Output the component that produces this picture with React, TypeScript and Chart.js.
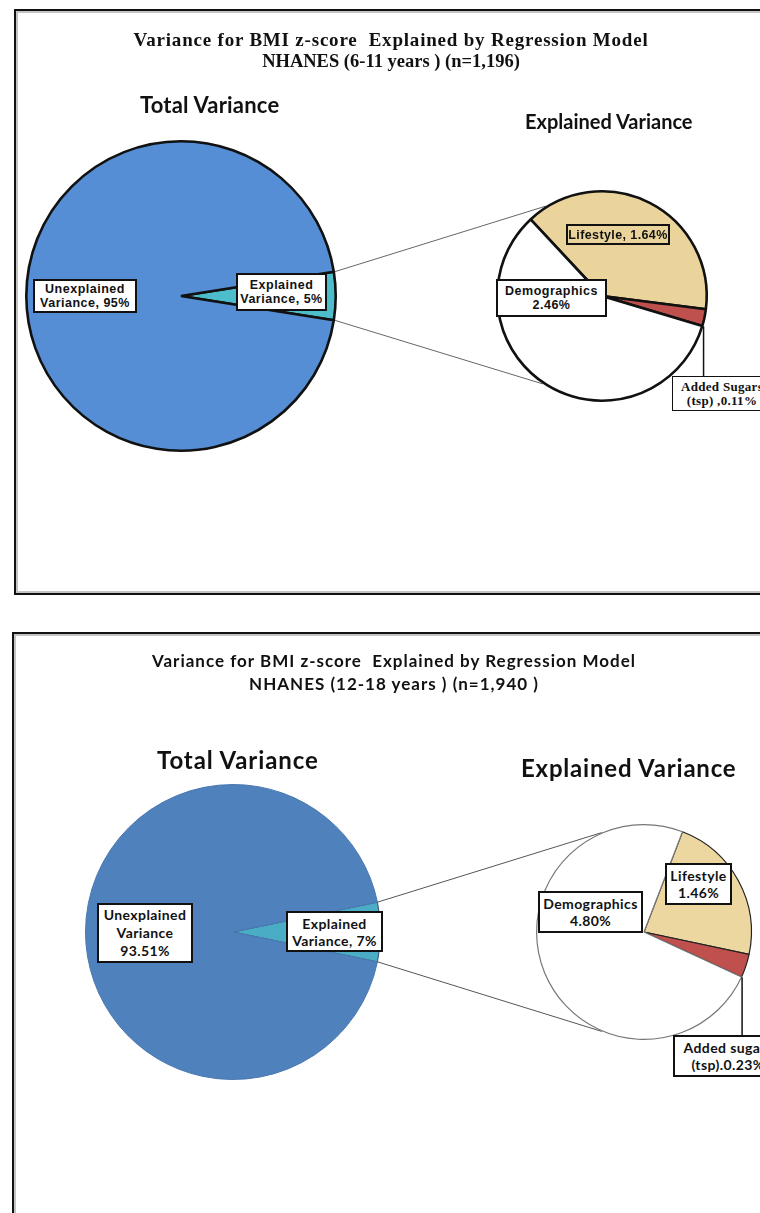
import React, { useEffect, useRef } from 'react';
import { Chart, registerables } from 'chart.js';
Chart.register(...registerables);

// ---------- DATA ----------
const topBigLabels = ['Explained Variance', 'Unexplained Variance'];
const topBigValues = [5, 95];
const topSmallLabels = ['Lifestyle', 'Added Sugars (tsp)', 'Demographics'];
const topSmallValues = [1.64, 0.11, 2.46];

const botBigLabels = ['Explained Variance', 'Unexplained Variance'];
const botBigValues = [6.49, 93.51];
const botSmallLabels = ['Lifestyle', 'Added sugars (tsp)', 'Demographics'];
const botSmallValues = [1.46, 0.23, 4.8];

const topTitle = ['Variance for BMI z-score  Explained by Regression Model', 'NHANES (6-11 years ) (n=1,196)'];
const botTitle = ['Variance for BMI z-score  Explained by Regression Model', 'NHANES (12-18 years ) (n=1,940 )'];
const totalTitle = 'Total Variance';
const explainedTitle = 'Explained Variance';

const topUnexplainedText = ['Unexplained', 'Variance, 95%'];
const topExplainedText = ['Explained', 'Variance, 5%'];
const topLifestyleText = ['Lifestyle, 1.64%'];
const topDemoText = ['Demographics', '2.46%'];
const topSugarText = ['Added Sugars', '(tsp) ,0.11%'];

const botUnexplainedText = ['Unexplained', 'Variance', '93.51%'];
const botExplainedText = ['Explained', 'Variance, 7%'];
const botLifestyleText = ['Lifestyle', '1.46%'];
const botDemoText = ['Demographics', '4.80%'];
const botSugarText = ['Added sugars', '(tsp).0.23%'];

// ---------- helpers ----------
type PieSpec = {
  labels: string[];
  values: number[];
  colors: string[];
  borderColors: string[];
  borderWidths: number[];
  cx: number;
  cy: number;
  r: number;
  startDeg: number;
};

function pieConfig(spec: PieSpec, W: number, H: number, plugins: any[]): any {
  return {
    type: 'pie',
    data: {
      labels: spec.labels,
      datasets: [
        {
          data: spec.values,
          backgroundColor: spec.colors,
          borderColor: spec.borderColors,
          borderWidth: spec.borderWidths,
        },
      ],
    },
    options: {
      responsive: false,
      animation: false,
      events: [],
      rotation: spec.startDeg + 90,
      layout: {
        padding: {
          left: spec.cx - spec.r,
          right: W - spec.cx - spec.r,
          top: spec.cy - spec.r,
          bottom: H - spec.cy - spec.r,
        },
      },
      plugins: {
        legend: { display: false },
        tooltip: { enabled: false },
        title: { display: false },
      },
    },
    plugins,
  };
}

type PanelProps = {
  canvasTop: number;
  height: number;
  big: PieSpec;
  small: PieSpec;
  upperDeg: number;
  lowerDeg: number;
  calloutBottomY: number;
  connectorColor: string;
  calloutWidth: number;
};

function PiePanel(p: PanelProps) {
  const bigRef = useRef<HTMLCanvasElement | null>(null);
  const smallRef = useRef<HTMLCanvasElement | null>(null);
  useEffect(() => {
    const W = 760;
    const H = p.height;
    const bigChart = new Chart(bigRef.current as HTMLCanvasElement, pieConfig(p.big, W, H, []));
    const maxBw = (arr: number[]) => Math.max(...arr);
    const connector = {
      id: 'connector',
      beforeDatasetsDraw(chart: any) {
        const a: any = bigChart.getDatasetMeta(0).data[0];
        const s: any = chart.getDatasetMeta(0).data[0];
        const Rb = a.outerRadius + maxBw(p.big.borderWidths) / 2;
        const Rs = s.outerRadius + maxBw(p.small.borderWidths) / 2;
        const ctx = chart.ctx;
        ctx.save();
        ctx.strokeStyle = p.connectorColor;
        ctx.lineWidth = 1;
        const u = (p.upperDeg * Math.PI) / 180;
        const l = (p.lowerDeg * Math.PI) / 180;
        ctx.beginPath();
        ctx.moveTo(a.x + Rb * Math.cos(a.startAngle), a.y + Rb * Math.sin(a.startAngle));
        ctx.lineTo(s.x + Rs * Math.cos(u), s.y + Rs * Math.sin(u));
        ctx.moveTo(a.x + Rb * Math.cos(a.endAngle), a.y + Rb * Math.sin(a.endAngle));
        ctx.lineTo(s.x + Rs * Math.cos(l), s.y + Rs * Math.sin(l));
        ctx.stroke();
        ctx.restore();
      },
      afterDatasetsDraw(chart: any) {
        const s: any = chart.getDatasetMeta(0).data[1];
        const Rs = s.outerRadius + maxBw(p.small.borderWidths) / 2;
        const px = s.x + Rs * Math.cos(s.endAngle);
        const py = s.y + Rs * Math.sin(s.endAngle);
        const ctx = chart.ctx;
        ctx.save();
        ctx.strokeStyle = '#111';
        ctx.lineWidth = p.calloutWidth;
        ctx.beginPath();
        ctx.moveTo(px, py);
        ctx.lineTo(px, p.calloutBottomY);
        ctx.stroke();
        ctx.restore();
      },
    };
    const smallChart = new Chart(smallRef.current as HTMLCanvasElement, pieConfig(p.small, W, H, [connector]));
    return () => {
      smallChart.destroy();
      bigChart.destroy();
    };
  }, []);
  const style: React.CSSProperties = { position: 'absolute', left: 0, top: p.canvasTop, width: 760, height: p.height };
  return (
    <>
      <canvas ref={bigRef} width={760} height={p.height} style={style} />
      <canvas ref={smallRef} width={760} height={p.height} style={style} />
    </>
  );
}

type BoxProps = {
  left: number;
  top: number;
  width: number;
  height: number;
  lines: string[];
  font: string;
  bg?: string;
  lh?: number;
  bw?: number;
  ls?: number;
};

function Box(b: BoxProps) {
  return (
    <div
      style={{
        position: 'absolute',
        left: b.left,
        top: b.top,
        width: b.width,
        height: b.height,
        boxSizing: 'border-box',
        border: `${b.bw ?? 2}px solid #111`,
        background: b.bg ?? '#fff',
        display: 'flex',
        flexDirection: 'column',
        justifyContent: 'center',
        alignItems: 'center',
        font: b.font,
        lineHeight: `${b.lh ?? 14}px`,
        letterSpacing: b.ls ?? 0,
        color: '#111',
        whiteSpace: 'nowrap',
      }}
    >
      {b.lines.map((t, i) => (
        <div key={i}>{t}</div>
      ))}
    </div>
  );
}

function Text({ x, y, text, font, center, ls }: { x: number; y: number; text: string; font: string; center?: boolean; ls?: number }) {
  return (
    <div
      style={{
        position: 'absolute',
        left: center ? x - 400 : x,
        width: center ? 800 : undefined,
        textAlign: center ? 'center' : 'left',
        top: y,
        font,
        letterSpacing: ls ?? 0,
        color: '#111',
        whiteSpace: 'pre',
      }}
    >
      {text}
    </div>
  );
}

const halfWedge = (vals: number[]) => -((vals[0] / vals.reduce((s, v) => s + v, 0)) * 360) / 2;

export default function App() {
  const serif = '"Liberation Serif", "Times New Roman", serif';
  const arial = '"Liberation Sans", Arial, sans-serif';
  const cal = 'Lato, "Open Sans", sans-serif';

  const topTop = 0;
  const topBig: PieSpec = {
    labels: topBigLabels,
    values: topBigValues,
    colors: ['#4DBCCB', '#558ED5'],
    borderColors: ['#111', '#111'],
    borderWidths: [2.6, 2.6],
    cx: 181,
    cy: 296 - topTop,
    r: 156,
    startDeg: halfWedge(topBigValues),
  };
  const topSmall: PieSpec = {
    labels: topSmallLabels,
    values: topSmallValues,
    colors: ['#EBD49C', '#C0504D', '#FFFFFF'],
    borderColors: ['#111', '#111', '#111'],
    borderWidths: [2.6, 2.6, 2.6],
    cx: 602,
    cy: 296 - topTop,
    r: 106,
    startDeg: -133,
  };

  const botTop = 610;
  const botBig: PieSpec = {
    labels: botBigLabels,
    values: botBigValues,
    colors: ['#4BACC6', '#4F81BD'],
    borderColors: ['#2c4d73', '#4a78b0'],
    borderWidths: [1, 1],
    cx: 233,
    cy: 932 - botTop,
    r: 148,
    startDeg: halfWedge(botBigValues),
  };
  const botSmall: PieSpec = {
    labels: botSmallLabels,
    values: botSmallValues,
    colors: ['#EDD7A0', '#C0504D', '#FFFFFF'],
    borderColors: ['#222', '#222', '#777'],
    borderWidths: [1.2, 1.2, 1.2],
    cx: 644,
    cy: 932 - botTop,
    r: 108,
    startDeg: -69,
  };

  return (
    <div style={{ position: 'absolute', left: 0, top: 0, width: 760, height: 1213, overflow: 'hidden', background: '#fff' }}>
      {/* panel frames */}
      <div
        style={{
          position: 'absolute',
          left: 14,
          top: 9,
          width: 800,
          height: 586,
          boxSizing: 'border-box',
          border: '2px solid #111',
          boxShadow: 'inset 0 0 0 2px #c4c4c4',
        }}
      />
      <div
        style={{
          position: 'absolute',
          left: 12,
          top: 632,
          width: 800,
          height: 700,
          boxSizing: 'border-box',
          border: '2px solid #111',
          boxShadow: 'inset 0 0 0 2px #c4c4c4',
        }}
      />

      <PiePanel
        canvasTop={topTop}
        height={605}
        big={topBig}
        small={topSmall}
        upperDeg={-122}
        lowerDeg={124}
        calloutBottomY={376 - topTop}
        connectorColor="#666"
        calloutWidth={1.5}
      />
      <PiePanel
        canvasTop={botTop}
        height={603}
        big={botBig}
        small={botSmall}
        upperDeg={-113}
        lowerDeg={113}
        calloutBottomY={1035 - botTop}
        connectorColor="#555"
        calloutWidth={1.5}
      />

      {/* top panel text */}
      <Text x={391} y={29} center text={topTitle[0]} font={`bold 19px ${serif}`} ls={0.8} />
      <Text x={391} y={51} center text={topTitle[1]} font={`bold 18.5px ${serif}`} />
      <Text x={140} y={91} text={totalTitle} font={`bold 22px ${cal}`} ls={0.2} />
      <Text x={525} y={109} text={explainedTitle} font={`bold 20px ${cal}`} />

      <Box left={33} top={279} width={104} height={34} lines={topUnexplainedText} font={`bold 12.5px ${arial}`} ls={0.5} />
      <Box left={236} top={273} width={91} height={38} lines={topExplainedText} font={`bold 12.5px ${arial}`} ls={0.5} />
      <Box left={566} top={224} width={104} height={21} lines={topLifestyleText} font={`bold 12.5px ${arial}`} bg="transparent" ls={0.4} />
      <Box left={496} top={279} width={111} height={38} lines={topDemoText} font={`bold 12.5px ${arial}`} ls={0.5} />
      <Box left={672} top={376} width={100} height={35} lines={topSugarText} font={`bold 13px ${serif}`} bw={1.5} ls={0.3} />

      {/* bottom panel text */}
      <Text x={394} y={650} center text={botTitle[0]} font={`bold 17px ${cal}`} ls={1.0} />
      <Text x={394} y={673} center text={botTitle[1]} font={`bold 17px ${cal}`} ls={1.0} />
      <Text x={157} y={745} text={totalTitle} font={`bold 24px ${cal}`} ls={0.9} />
      <Text x={521} y={753} text={explainedTitle} font={`bold 24px ${cal}`} ls={0.8} />

      <Box left={97} top={903} width={96} height={60} lines={botUnexplainedText} font={`bold 14px ${cal}`} lh={18} ls={0.4} />
      <Box left={286} top={911} width={97} height={41} lines={botExplainedText} font={`bold 14px ${cal}`} lh={17} ls={0.4} />
      <Box left={665} top={863} width={67} height={42} lines={botLifestyleText} font={`bold 14px ${cal}`} lh={17} ls={0.4} />
      <Box left={538} top={891} width={105} height={42} lines={botDemoText} font={`bold 14px ${cal}`} lh={17} ls={0.4} />
      <Box left={673} top={1035} width={110} height={42} lines={botSugarText} font={`bold 14px ${cal}`} lh={17} ls={0.4} />
    </div>
  );
}
